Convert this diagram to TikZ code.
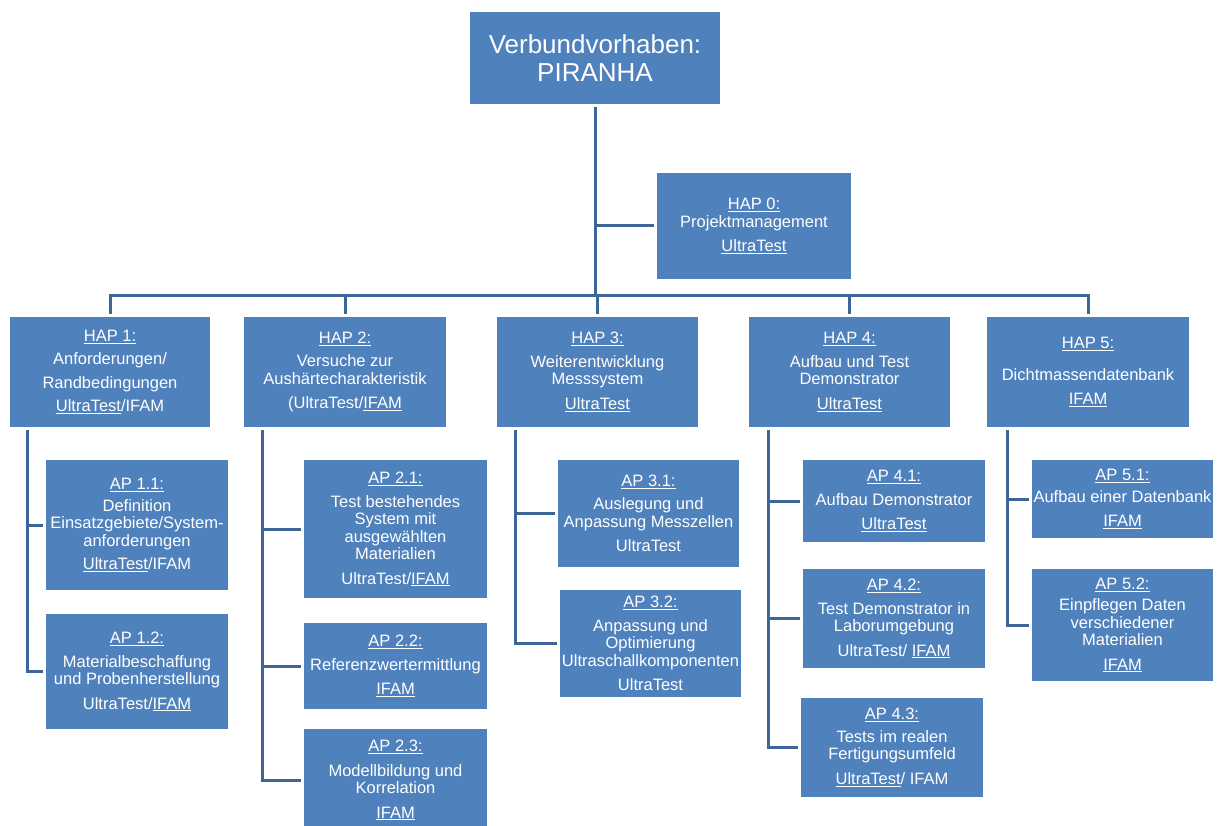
\documentclass[tikz,border=0pt]{standalone}
\usepackage{fontspec}
\setmainfont{Liberation Sans}
\usepackage{tikz}
\usetikzlibrary{calc}
\definecolor{boxblue}{RGB}{79,129,189}
\definecolor{lineblue}{RGB}{61,102,150}

\begin{document}
\begin{tikzpicture} [x=1pt, y=-1pt,
  box/.style={fill=boxblue, text=white, align=center, inner sep=0pt, outer sep=3pt,
    font=\fontsize{16.5}{17.5}\selectfont},
  conn/.style={draw=lineblue, line width=3pt}]

\useasboundingbox (0,0) rectangle (1219,826);

\node [box, minimum width=250pt, minimum height=92pt, font=\fontsize{26}{28}\selectfont] (root) at (595,58) {Verbundvorhaben:\\PIRANHA};
\node [box, minimum width=194pt, minimum height=106pt] (hap0) at (754,226) {\underline{HAP 0:}\\Projektmanagement\\[7pt]\underline{UltraTest}};

\node [box, minimum width=200pt, minimum height=110pt] (hap1) at (110,372) {\underline{HAP 1:}\\[6pt]Anforderungen/\\[6pt]Randbedingungen\\[6pt]\underline{UltraTest}/IFAM};
\node [box, minimum width=202pt, minimum height=110pt] (hap2) at (345,372) {\underline{HAP 2:}\\[6pt]Versuche zur\\Aushärtecharakteristik\\[7pt](UltraTest/\underline{IFAM}};
\node [box, minimum width=201pt, minimum height=110pt] (hap3) at (597.5,372) {\underline{HAP 3:}\\[6pt]Weiterentwicklung\\Messsystem\\[7pt]\underline{UltraTest}};
\node [box, minimum width=201pt, minimum height=110pt] (hap4) at (849.5,372) {\underline{HAP 4:}\\[6pt]Aufbau und Test\\Demonstrator\\[7pt]\underline{UltraTest}};
\node [box, minimum width=202pt, minimum height=110pt] (hap5) at (1088,372) {\underline{HAP 5:}\\[14pt]Dichtmassendatenbank\\[7pt]\underline{IFAM}};

\node [box, minimum width=182pt, minimum height=130pt] (ap11) at (137,525) {\underline{AP 1.1:}\\[4pt]Definition\\Einsatzgebiete/System-\\anforderungen\\[6pt]\underline{UltraTest}/IFAM};
\node [box, minimum width=182pt, minimum height=115pt] (ap12) at (137,671.5) {\underline{AP 1.2:}\\[6pt]Materialbeschaffung\\und Probenherstellung\\[7pt]UltraTest/\underline{IFAM}};

\node [box, minimum width=183pt, minimum height=138pt] (ap21) at (395.5,529) {\underline{AP 2.1:}\\[6pt]Test bestehendes\\System mit\\ausgewählten\\Materialien\\[7pt]UltraTest/\underline{IFAM}};
\node [box, minimum width=183pt, minimum height=86pt] (ap22) at (395.5,666) {\underline{AP 2.2:}\\[6pt]Referenzwertermittlung\\[7pt]\underline{IFAM}};
\node [box, minimum width=183pt, minimum height=102pt] (ap23) at (395.5,780) {\underline{AP 2.3:}\\[7pt]Modellbildung und\\Korrelation\\[7pt]\underline{IFAM}};

\node [box, minimum width=181pt, minimum height=107pt] (ap31) at (648.5,513.5) {\underline{AP 3.1:}\\[6pt]Auslegung und\\Anpassung Messzellen\\[7pt]UltraTest};
\node [box, minimum width=181pt, minimum height=107pt] (ap32) at (650.5,643.5) {\underline{AP 3.2:}\\[6pt]Anpassung und\\Optimierung\\Ultraschallkomponenten\\[7pt]UltraTest};

\node [box, minimum width=182pt, minimum height=82pt] (ap41) at (894,501) {\underline{AP 4.1:}\\[6pt]Aufbau Demonstrator\\[7pt]\underline{UltraTest}};
\node [box, minimum width=182pt, minimum height=99pt] (ap42) at (894,618.5) {\underline{AP 4.2:}\\[6pt]Test Demonstrator in\\Laborumgebung\\[7pt]UltraTest/ \underline{IFAM}};
\node [box, minimum width=182pt, minimum height=99pt] (ap43) at (892,747.5) {\underline{AP 4.3:}\\[5pt]Tests im realen\\Fertigungsumfeld\\[7pt]\underline{UltraTest}/ IFAM};

\node [box, minimum width=181pt, minimum height=78pt] (ap51) at (1122.5,499) {\underline{AP 5.1:}\\[4pt]Aufbau einer Datenbank\\[7pt]\underline{IFAM}};
\node [box, minimum width=181pt, minimum height=112pt] (ap52) at (1122.5,625) {\underline{AP 5.2:}\\[4pt]Einpflegen Daten\\verschiedener\\Materialien\\[7pt]\underline{IFAM}};

\coordinate (barL) at (110,296);

\draw [conn] (root.south) -- (root.south |- barL);
\draw [conn] (hap0.west) -- (hap0.west -| root.south);
\draw [conn] (hap1.north) -- (hap1.north |- barL) -- (hap5.north |- barL) -- (hap5.north);
\draw [conn] (hap2.north) -- (hap2.north |- barL);
\draw [conn] (hap3.north) -- (hap3.north |- barL);
\draw [conn] (hap4.north) -- (hap4.north |- barL);

\coordinate (s1) at ([xshift=20pt]hap1.south west);
\coordinate (s2) at ([xshift=21pt]hap2.south west);
\coordinate (s3) at ([xshift=21pt]hap3.south west);
\coordinate (s4) at ([xshift=22pt]hap4.south west);
\coordinate (s5) at ([xshift=23pt]hap5.south west);

\draw [conn] (s1) |- (ap12.west);
\draw [conn] (ap11.west) -- (ap11.west -| s1);
\draw [conn] (s2) |- (ap23.west);
\draw [conn] (ap21.west) -- (ap21.west -| s2);
\draw [conn] (ap22.west) -- (ap22.west -| s2);
\draw [conn] (s3) |- (ap32.west);
\draw [conn] (ap31.west) -- (ap31.west -| s3);
\draw [conn] (s4) |- (ap43.west);
\draw [conn] (ap41.west) -- (ap41.west -| s4);
\draw [conn] (ap42.west) -- (ap42.west -| s4);
\draw [conn] (s5) |- (ap52.west);
\draw [conn] (ap51.west) -- (ap51.west -| s5);

\end{tikzpicture}
\end{document}
